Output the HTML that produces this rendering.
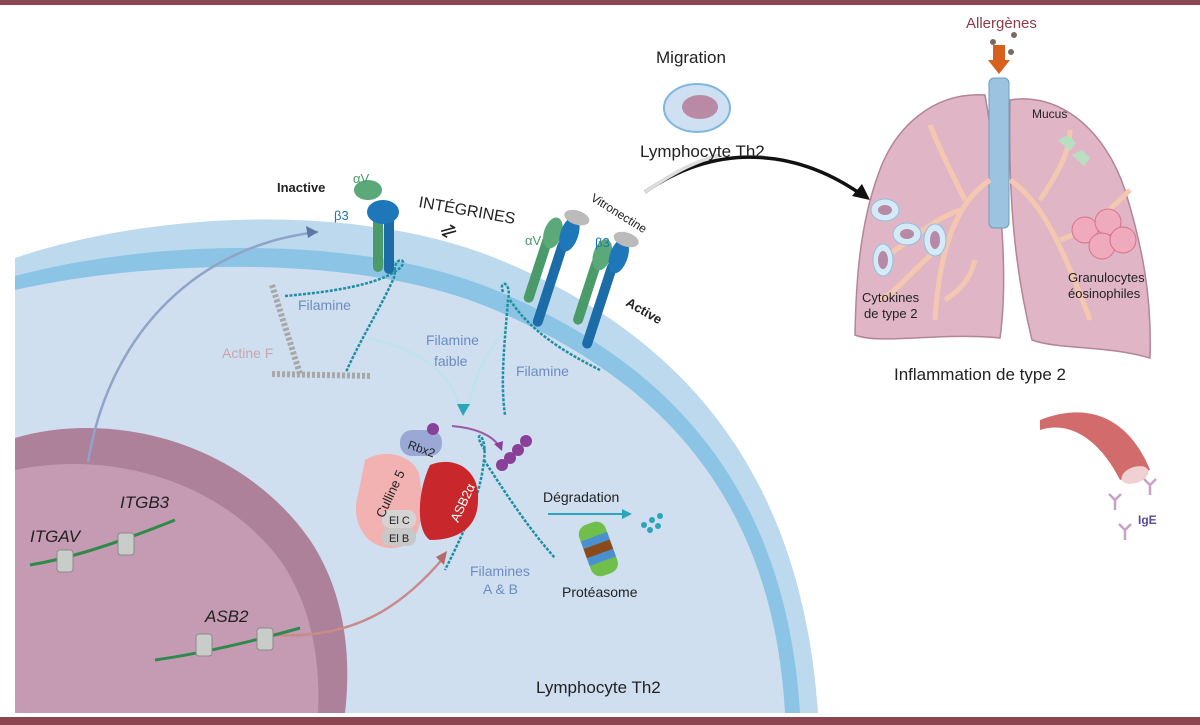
<!DOCTYPE html>
<html><head><meta charset="utf-8"><style>
html,body{margin:0;padding:0;background:#fff}
svg{display:block}
text{font-family:"Liberation Sans",sans-serif}
</style></head><body>
<svg width="1200" height="725" viewBox="0 0 1200 725" xmlns="http://www.w3.org/2000/svg">
<rect x="0" y="0" width="1200" height="5" fill="#8c4652"/>
<rect x="0" y="717" width="1200" height="8" fill="#8c4652"/>
<rect x="0" y="713" width="1200" height="4" fill="#fff"/>

<!-- cell -->
<path d="M15,258 C150,212 360,200 505,262 C660,328 800,450 818,713 L15,713 Z" fill="#bcd9ee"/>
<path d="M15,276 C150,240 360,232 500,292 C650,356 785,470 800,713 L15,713 Z" fill="#8cc4e6"/>
<path d="M15,290 C150,260 360,252 495,310 C640,372 772,480 785,713 L15,713 Z" fill="#cfdff0"/>
<!-- nucleus -->
<path d="M15,438 C110,410 240,440 310,540 C350,600 350,670 345,713 L15,713 Z" fill="#ad8199"/>
<path d="M15,470 C110,450 220,480 280,560 C315,610 320,670 318,713 L15,713 Z" fill="#c59bb4"/>

<!-- arrows -->
<path d="M88,462 C110,330 200,245 318,232" stroke="#8fa4c8" stroke-width="2.5" fill="none"/>
<polygon points="318,232 306,226 308,238" fill="#5e75a6"/>
<path d="M270,635 C350,640 400,610 445,556" stroke="#c98a8a" stroke-width="2.5" fill="none"/>
<polygon points="447,551 436,557 444,565" fill="#b46a6a"/>
<path d="M368,338 C420,350 450,370 462,412" stroke="#bfe2ef" stroke-width="2.5" fill="none"/>
<path d="M505,330 C480,360 472,385 468,412" stroke="#bfe2ef" stroke-width="2.5" fill="none"/>
<polygon points="463,416 457,404 470,404" fill="#2aa6b8"/>
<path d="M452,426 C475,428 492,435 500,447" stroke="#9a5aa8" stroke-width="2" fill="none"/>
<polygon points="502,451 494,444 503,441" fill="#8a3f98"/>
<line x1="548" y1="514" x2="628" y2="514" stroke="#2aa6b8" stroke-width="2"/>
<polygon points="632,514 622,509 622,519" fill="#2aa6b8"/>
<path d="M645,192 C720,140 800,150 865,197" stroke="#111" stroke-width="3.5" fill="none"/>
<polygon points="870,200 852,196 862,184" fill="#111"/>
<path d="M645,192 C680,168 700,160 720,155" stroke="#ddd" stroke-width="3.5" fill="none"/>

<!-- actin -->
<g stroke="#a8a8a8" stroke-width="6" stroke-dasharray="3,2" fill="none">
<line x1="272" y1="285" x2="300" y2="374"/>
<line x1="272" y1="374" x2="372" y2="376"/>
</g>
<!-- filamin chains -->
<g stroke="#1f8fa0" stroke-width="2.5" fill="none" stroke-dasharray="3,1.5">
<path d="M285,296 C330,292 380,285 400,268 C410,258 392,255 395,275 C385,300 360,340 346,372"/>
<path d="M503,292 C498,280 512,280 508,300 C505,340 500,380 505,415"/>
<path d="M510,300 C530,330 560,350 600,370"/>
<path d="M485,450 C470,430 488,430 484,460 C480,500 460,540 445,570"/>
<path d="M484,460 C510,500 530,530 555,558"/>
</g>

<!-- inactive integrin -->
<rect x="373" y="210" width="10" height="62" rx="5" fill="#4a9a6a"/>
<rect x="384" y="212" width="10" height="62" rx="5" fill="#1c6ca8"/>
<ellipse cx="368" cy="190" rx="14" ry="10" fill="#5ba879"/>
<ellipse cx="383" cy="212" rx="16" ry="12" fill="#1d77b8"/>
<!-- active integrins -->
<g transform="rotate(18 560 250)">
<rect x="540" y="240" width="10" height="70" rx="5" fill="#4a9a6a"/>
<rect x="556" y="240" width="10" height="90" rx="5" fill="#1c6ca8"/>
<ellipse cx="548" cy="236" rx="9" ry="16" fill="#5ba879"/>
<ellipse cx="564" cy="232" rx="9" ry="18" fill="#1d77b8"/>
<ellipse cx="566" cy="214" rx="13" ry="7" fill="#bbb"/>
</g>
<g transform="rotate(18 610 270)">
<rect x="590" y="262" width="10" height="70" rx="5" fill="#4a9a6a"/>
<rect x="606" y="262" width="10" height="90" rx="5" fill="#1c6ca8"/>
<ellipse cx="598" cy="258" rx="9" ry="16" fill="#5ba879"/>
<ellipse cx="614" cy="254" rx="9" ry="18" fill="#1d77b8"/>
<ellipse cx="616" cy="236" rx="13" ry="7" fill="#bbb"/>
</g>

<!-- E3 complex -->
<path d="M365,460 C390,445 420,460 420,480 C425,520 420,545 395,548 C365,550 350,520 358,495 Z" fill="#f2b2b2"/>
<path d="M430,465 C455,455 480,470 478,500 C478,530 455,540 430,540 C415,530 418,490 430,465 Z" fill="#c8272b"/>
<rect x="400" y="430" width="42" height="26" rx="12" fill="#9aa8d6"/>
<rect x="382" y="510" width="34" height="18" rx="8" fill="#d4d4d4"/>
<rect x="382" y="528" width="34" height="18" rx="8" fill="#c8c8c8"/>
<circle cx="433" cy="429" r="6" fill="#8a3f98"/>
<circle cx="502" cy="465" r="6" fill="#8a3f98"/><circle cx="510" cy="458" r="6" fill="#8a3f98"/><circle cx="518" cy="450" r="6" fill="#8a3f98"/><circle cx="526" cy="441" r="6" fill="#8a3f98"/>

<!-- proteasome -->
<g transform="rotate(-20 598 548)">
<rect x="584" y="522" width="28" height="54" rx="10" fill="#6fbf4a"/>
<rect x="584" y="536" width="28" height="8" fill="#4a90d0"/>
<rect x="584" y="544" width="28" height="10" fill="#8b4a1c"/>
<rect x="584" y="554" width="28" height="8" fill="#4a90d0"/>
</g>
<g fill="#2aa6b8"><circle cx="644" cy="525" r="3"/><circle cx="652" cy="520" r="3"/><circle cx="660" cy="516" r="3"/><circle cx="650" cy="530" r="3"/><circle cx="658" cy="526" r="3"/></g>

<!-- DNA -->
<g stroke="#2e8a4a" stroke-width="3" fill="none">
<path d="M30,565 C60,560 100,550 175,520"/>
<path d="M155,660 C190,655 240,645 300,628"/>
</g>
<g fill="#c9cdc9" stroke="#8a8a8a"><rect x="57" y="550" width="16" height="22" rx="3"/><rect x="118" y="533" width="16" height="22" rx="3"/><rect x="196" y="634" width="16" height="22" rx="3"/><rect x="257" y="628" width="16" height="22" rx="3"/></g>

<!-- Th2 small cell -->
<ellipse cx="697" cy="108" rx="33" ry="24" fill="#cfe0f2" stroke="#7eb6e0" stroke-width="2"/>
<ellipse cx="700" cy="107" rx="18" ry="12" fill="#b88aa6"/>

<!-- lungs -->
<path d="M985,95 C935,92 895,125 878,175 C860,225 856,280 855,335 C880,345 940,332 1000,338 C1008,280 1003,200 985,95 Z" fill="#e0b6c6" stroke="#b48498" stroke-width="1.5"/>
<path d="M1010,100 C1060,92 1105,130 1125,190 C1142,245 1152,295 1150,358 C1105,345 1060,350 1032,340 C1015,270 1008,200 1010,100 Z" fill="#e0b6c6" stroke="#b48498" stroke-width="1.5"/>
<rect x="989" y="78" width="20" height="150" rx="5" fill="#9cc4e0" stroke="#6a9ec0"/>
<g stroke="#f4c8b0" stroke-width="5" fill="none">
<path d="M990,180 C960,200 940,240 935,320"/><path d="M960,210 C930,220 900,250 880,260"/><path d="M950,240 C920,260 900,290 880,300"/>
<path d="M965,200 C950,170 940,150 930,125"/><path d="M945,300 C960,290 970,280 975,260"/>
<path d="M1010,180 C1040,200 1060,240 1090,320"/><path d="M1040,200 C1060,170 1070,150 1070,130"/><path d="M1060,240 C1090,230 1110,210 1130,190"/>
</g>
<g fill="#d4eaf6" stroke="#90bfe0"><ellipse cx="885" cy="210" rx="14" ry="11"/><ellipse cx="907" cy="234" rx="14" ry="11"/><ellipse cx="935" cy="240" rx="11" ry="16"/><ellipse cx="883" cy="260" rx="10" ry="16"/></g>
<g fill="#b68aa6"><ellipse cx="885" cy="210" rx="7" ry="5"/><ellipse cx="907" cy="234" rx="7" ry="5"/><ellipse cx="935" cy="240" rx="5" ry="9"/><ellipse cx="883" cy="260" rx="5" ry="9"/></g>
<g fill="#f0aabe" stroke="#d8708c"><circle cx="1085" cy="230" r="13"/><circle cx="1108" cy="222" r="13"/><circle cx="1102" cy="246" r="13"/><circle cx="1123" cy="240" r="13"/></g>
<g fill="#b8e0c0"><path d="M1058,140 l10,-5 l8,8 l-6,8 z"/><path d="M1072,155 l10,-5 l8,8 l-6,8 z"/></g>
<polygon points="993,45 1005,45 1005,60 1010,60 999,74 988,60 993,60" fill="#d8601e"/>
<g fill="#7a6a60"><circle cx="993" cy="42" r="3"/><circle cx="1014" cy="35" r="3"/><circle cx="1011" cy="52" r="3"/></g>

<!-- IgE vessel -->
<path d="M1040,430 C1070,420 1100,440 1120,480 L1150,470 C1130,420 1090,400 1040,420 Z" fill="#d26c6c"/>
<ellipse cx="1135" cy="475" rx="14" ry="8" fill="#f0d0d0" transform="rotate(-20 1135 475)"/>
<g stroke="#c8a0c8" stroke-width="2.5" fill="none">
<path d="M1115,500 v10 M1115,500 l-6,-6 M1115,500 l6,-6"/>
<path d="M1125,530 v10 M1125,530 l-6,-6 M1125,530 l6,-6"/>
<path d="M1150,485 v10 M1150,485 l-6,-6 M1150,485 l6,-6"/>
</g>

<!-- labels -->
<g fill="#222" font-size="15">
<text x="277" y="192" font-weight="bold" font-size="13">Inactive</text>
<text x="353" y="183" fill="#4a9a6a" font-size="13">αV</text>
<text x="334" y="220" fill="#1d77b8" font-size="13">β3</text>
<text x="418" y="207" transform="rotate(10 418 207)" font-size="16">INTÉGRINES</text>
<text x="440" y="237" font-size="20" transform="rotate(-15 450 230)">⇌</text>
<text x="590" y="200" transform="rotate(32 590 200)" font-size="12">Vitronectine</text>
<text x="525" y="245" fill="#4a9a6a" font-size="13">αV</text>
<text x="595" y="247" fill="#1d77b8" font-size="13">β3</text>
<text x="625" y="305" transform="rotate(30 625 305)" font-weight="bold" font-size="13">Active</text>
<text x="298" y="310" fill="#6c8cc0" font-size="14">Filamine</text>
<text x="222" y="358" fill="#c8a6b0" font-size="14">Actine F</text>
<text x="426" y="345" fill="#6c8cc0" font-size="14">Filamine</text>
<text x="434" y="366" fill="#6c8cc0" font-size="14">faible</text>
<text x="516" y="376" fill="#6c8cc0" font-size="14">Filamine</text>
<text x="407" y="448" font-size="12" transform="rotate(20 407 448)">Rbx2</text>
<text x="375" y="505" font-size="13" transform="rotate(-65 390 505)">Culline 5</text>
<text x="437" y="520" font-size="13" fill="#fff" transform="rotate(-65 450 505)">ASB2α</text>
<text x="389" y="524" font-size="11">El C</text>
<text x="389" y="542" font-size="11">El B</text>
<text x="543" y="502" font-size="14">Dégradation</text>
<text x="470" y="576" fill="#6c8cc0" font-size="14">Filamines</text>
<text x="483" y="594" fill="#6c8cc0" font-size="14">A &amp; B</text>
<text x="562" y="597" font-size="14">Protéasome</text>
<text x="30" y="542" font-style="italic" font-size="17">ITGAV</text>
<text x="120" y="508" font-style="italic" font-size="17">ITGB3</text>
<text x="205" y="622" font-style="italic" font-size="17">ASB2</text>
<text x="536" y="693" font-size="17">Lymphocyte Th2</text>
<text x="656" y="63" font-size="17">Migration</text>
<text x="640" y="157" font-size="17">Lymphocyte Th2</text>
<text x="966" y="28" fill="#8c3a4a" font-size="15">Allergènes</text>
<text x="1032" y="118" font-size="12">Mucus</text>
<text x="1068" y="282" font-size="13">Granulocytes</text>
<text x="1068" y="298" font-size="13">éosinophiles</text>
<text x="862" y="302" font-size="13">Cytokines</text>
<text x="864" y="318" font-size="13">de type 2</text>
<text x="894" y="380" font-size="17">Inflammation de type 2</text>
<text x="1138" y="524" fill="#5a4a9a" font-weight="bold" font-size="12">IgE</text>
</g>
</svg>
</body></html>
